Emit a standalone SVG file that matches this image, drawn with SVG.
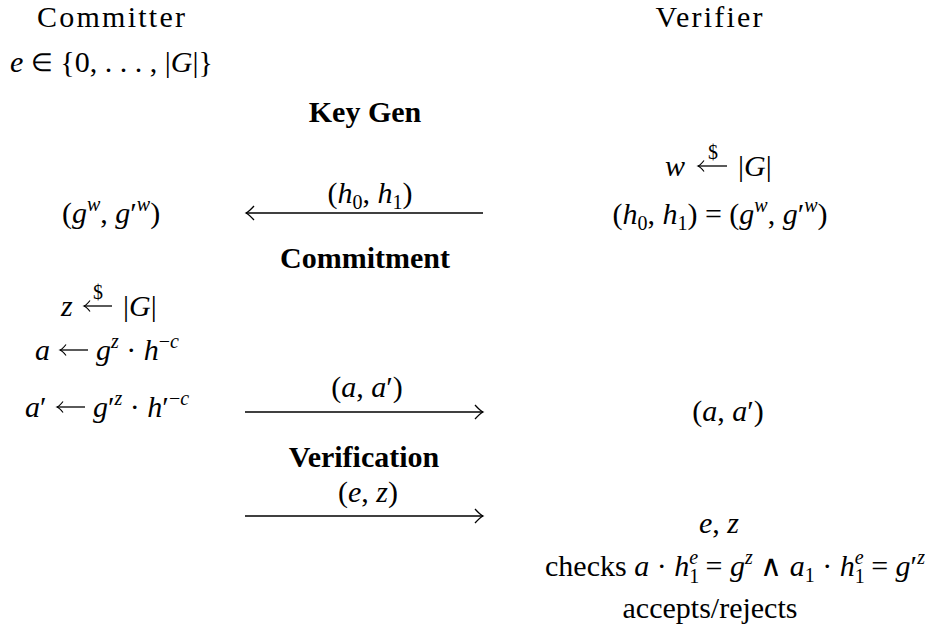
<svg xmlns="http://www.w3.org/2000/svg" width="925" height="629" viewBox="0 0 925 629">
<style>
text { font-family: "Liberation Serif", "Times New Roman", serif; font-size: 30px; fill: #000; }
.i { font-style: italic; }
.b { font-weight: bold; }
.s { font-size: 20px; }
.m { text-anchor: middle; }
.ln { stroke: #000; stroke-width: 1.3; fill: none; }
</style>
<defs>
<marker id="head" markerUnits="userSpaceOnUse" viewBox="-10 -8 12 16" refX="0" refY="0" markerWidth="12" markerHeight="16" orient="auto" overflow="visible">
<path d="M-8,-7 Q-3,-1.5 0,0 Q-3,1.5 -8,7" stroke="#000" stroke-width="1.3" fill="none"/>
</marker>
<marker id="headS" markerUnits="userSpaceOnUse" viewBox="-8 -6 10 12" refX="0" refY="0" markerWidth="10" markerHeight="12" orient="auto" overflow="visible">
<path d="M-6,-5.5 Q-2.5,-1 0,0 Q-2.5,1 -6,5.5" stroke="#000" stroke-width="1.2" fill="none"/>
</marker>
</defs>
<rect width="925" height="629" fill="#fff"/>

<g id="committer">
<text class="m" x="111" y="27" textLength="148">Committer</text>
<text x="10" y="72"><tspan class="i">e</tspan> <tspan font-size="25" dy="-1">∈</tspan><tspan dy="1"> {0, . . . , |</tspan><tspan class="i">G</tspan>|}</text>
<text class="m" x="111" y="223">(<tspan class="i">g</tspan><tspan class="i s" dy="-12">w</tspan><tspan dy="12">, </tspan><tspan class="i">g</tspan>′<tspan class="i s" dy="-12">w</tspan><tspan dy="12">)</tspan></text>
<text x="61" y="316"><tspan class="i">z</tspan><tspan x="123">|</tspan><tspan class="i">G</tspan>|</text>
<path class="ln" d="M112,306 L84,306" marker-end="url(#headS)" stroke-width="1.2"/>
<text class="s m" x="98" y="299">$</text>
<text y="360"><tspan class="i" x="35">a</tspan><tspan class="i" x="96">g</tspan><tspan class="i s" dy="-12">z</tspan><tspan dy="12"> · </tspan><tspan class="i">h</tspan><tspan class="s" dy="-12">−<tspan class="i">c</tspan></tspan></text>
<path class="ln" d="M88,350 L60,350" marker-end="url(#headS)" stroke-width="1.2"/>
<text y="417"><tspan class="i" x="25">a</tspan>′<tspan class="i" x="93">g</tspan>′<tspan class="i s" dy="-12">z</tspan><tspan dy="12"> · </tspan><tspan class="i">h</tspan>′<tspan class="s" dy="-12">−<tspan class="i">c</tspan></tspan></text>
<path class="ln" d="M85,407 L57,407" marker-end="url(#headS)" stroke-width="1.2"/>
</g>

<g id="verifier">
<text class="m" x="709" y="27" textLength="107">Verifier</text>
<text x="665" y="176"><tspan class="i">w</tspan><tspan x="738">|</tspan><tspan class="i">G</tspan>|</text>
<path class="ln" d="M727,166 L698,166" marker-end="url(#headS)" stroke-width="1.2"/>
<text class="s m" x="713" y="159">$</text>
<text class="m" x="720" y="224">(<tspan class="i">h</tspan><tspan class="s" dy="6">0</tspan><tspan dy="-6">, </tspan><tspan class="i">h</tspan><tspan class="s" dy="6">1</tspan><tspan dy="-6">) = (</tspan><tspan class="i">g</tspan><tspan class="i s" dy="-12">w</tspan><tspan dy="12">, </tspan><tspan class="i">g</tspan>′<tspan class="i s" dy="-12">w</tspan><tspan dy="12">)</tspan></text>
<text class="m" x="728" y="421">(<tspan class="i">a</tspan>, <tspan class="i">a</tspan>′)</text>
<text class="m" x="719" y="533"><tspan class="i">e</tspan>, <tspan class="i">z</tspan></text>
<text class="m" x="735" y="576">checks <tspan class="i">a</tspan> · <tspan class="i">h</tspan><tspan class="s" dy="7">1</tspan><tspan class="i s" dx="-10" dy="-19">e</tspan><tspan dy="12"> = </tspan><tspan class="i">g</tspan><tspan class="i s" dy="-12">z</tspan><tspan dy="12"> ∧ </tspan><tspan class="i">a</tspan><tspan class="s" dy="6">1</tspan><tspan dy="-6"> · </tspan><tspan class="i">h</tspan><tspan class="s" dy="7">1</tspan><tspan class="i s" dx="-10" dy="-19">e</tspan><tspan dy="12"> = </tspan><tspan class="i">g</tspan>′<tspan class="i s" dy="-12">z</tspan></text>
<text class="m" x="710" y="618">accepts/rejects</text>
</g>

<g id="phases">
<text class="m b" x="365" y="122">Key Gen</text>
<text class="m b" x="365" y="268">Commitment</text>
<text class="m b" x="364" y="467">Verification</text>
</g>

<g id="connectors">
<path class="ln" d="M483,213 L246,213" marker-end="url(#head)"/>
<text class="m" x="370" y="203">(<tspan class="i">h</tspan><tspan class="s" dy="6">0</tspan><tspan dy="-6">, </tspan><tspan class="i">h</tspan><tspan class="s" dy="6">1</tspan><tspan dy="-6">)</tspan></text>
<path class="ln" d="M245,412 L483,412" marker-end="url(#head)"/>
<text class="m" x="367" y="397">(<tspan class="i">a</tspan>, <tspan class="i">a</tspan>′)</text>
<path class="ln" d="M245,516 L483,516" marker-end="url(#head)"/>
<text class="m" x="368" y="502">(<tspan class="i">e</tspan>, <tspan class="i">z</tspan>)</text>
</g>
</svg>
